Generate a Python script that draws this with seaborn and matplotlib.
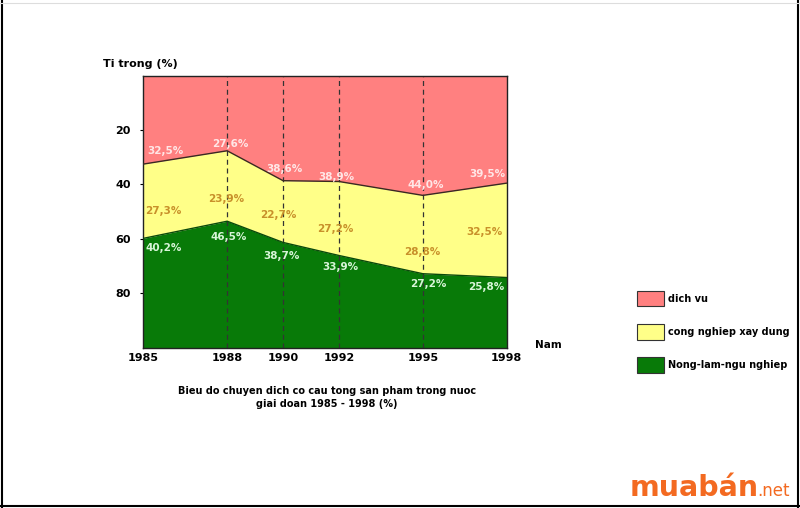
import matplotlib
matplotlib.use("Agg")
import matplotlib.pyplot as plt
import seaborn as sns
import numpy as np
import pandas as pd
from matplotlib.patches import Patch
from matplotlib.lines import Line2D

# ---------------- data ----------------
years = [1985, 1988, 1990, 1992, 1995, 1998]
dich_vu = [32.5, 27.6, 38.6, 38.9, 44.0, 39.5]
cong_nghiep = [27.3, 23.9, 22.7, 27.2, 28.8, 32.5]
nong_lam = [40.2, 46.5, 38.7, 33.9, 27.2, 25.8]
y_ticks = [20, 40, 60, 80]
series_names = ["dich vu", "cong nghiep xay dung", "Nong-lam-ngu nghiep"]

# label anchor positions (data coordinates)
dv_label_pos = [(1985.8, 27.6), (1988.1, 25.2), (1990.05, 34.3), (1991.9, 37.1), (1995.1, 40.2), (1997.3, 36.3)]
cn_label_pos = [(1985.72, 49.7), (1987.96, 45.4), (1989.83, 51.2), (1991.88, 56.5), (1994.97, 64.9), (1997.21, 57.6)]
nl_label_pos = [(1985.72, 63.5), (1988.07, 59.4), (1989.95, 66.3), (1992.05, 70.2), (1995.19, 76.7), (1997.27, 77.8)]

df = pd.DataFrame({"year": years, "dv": dich_vu, "cn": cong_nghiep, "nl": nong_lam})
df["green_top"] = 100 - df["nl"]

RED = "#FF8080"
YELLOW = "#FFFF88"
GREEN = "#087A08"

sns.set_style("white")
plt.rcParams["font.family"] = ["DejaVu Sans"]
plt.rcParams["text.color"] = "black"
plt.rcParams["xtick.color"] = "black"
plt.rcParams["ytick.color"] = "black"

fig = plt.figure(figsize=(8.0, 5.08), dpi=100)
ax = fig.add_axes([143.3 / 800, 1 - 347.7 / 508, (506.7 - 143.3) / 800, (347.7 - 75.7) / 508])

x = df["year"].to_numpy()
ax.fill_between(x, 0, df["dv"], color=RED, linewidth=0, zorder=1)
ax.fill_between(x, df["dv"], df["green_top"], color=YELLOW, linewidth=0, zorder=1)
ax.fill_between(x, df["green_top"], 100, color=GREEN, linewidth=0, zorder=1)

sns.lineplot(data=df, x="year", y="dv", ax=ax, color="#3a2a20", linewidth=1.0, zorder=3)
sns.lineplot(data=df, x="year", y="green_top", ax=ax, color="#0a4a0a", linewidth=1.0, zorder=3)

for yr in years[1:-1]:
    ax.axvline(yr, color="#333333", linestyle=(0, (4, 3)), linewidth=0.9, zorder=2)

ax.set_xlim(years[0], years[-1])
ax.set_ylim(100, 0)
ax.set_xticks(years)
ax.set_xticklabels([str(y) for y in years], fontsize=8, fontweight="bold")
ax.set_yticks(y_ticks)
ax.set_yticklabels([str(t) for t in y_ticks], fontsize=8, fontweight="bold")
ax.tick_params(axis="y", length=2, pad=7, left=True, colors="black")
ax.tick_params(axis="x", length=0, pad=4, colors="black")
ax.set_xlabel("")
ax.set_ylabel("")
for sp in ax.spines.values():
    sp.set_visible(True)
    sp.set_color("#222222")
    sp.set_linewidth(1.0)


def fmt(v):
    return f"{v:.1f}%".replace(".", ",")

for (px, py), v in zip(dv_label_pos, dich_vu):
    ax.text(px, py, fmt(v), color="#FFE6E6", fontsize=7.5, fontweight="bold", ha="center", va="center", zorder=4)
for (px, py), v in zip(cn_label_pos, cong_nghiep):
    ax.text(px, py, fmt(v), color="#C8902A", fontsize=7.5, fontweight="bold", ha="center", va="center", zorder=4)
for (px, py), v in zip(nl_label_pos, nong_lam):
    ax.text(px, py, fmt(v), color="#D8F5D8", fontsize=7.5, fontweight="bold", ha="center", va="center", zorder=4)

fig.text(103 / 800, 1 - 64 / 508, "Ti trong (%)", fontsize=8, fontweight="bold", ha="left", va="center")
fig.text(548 / 800, 1 - 345 / 508, "Nam", fontsize=7.5, fontweight="bold", ha="center", va="center")

fig.text(327 / 800, 1 - 391 / 508, "Bieu do chuyen dich co cau tong san pham trong nuoc",
         fontsize=7, fontweight="bold", ha="center", va="center")
fig.text(327 / 800, 1 - 404 / 508, "giai doan 1985 - 1998 (%)",
         fontsize=7, fontweight="bold", ha="center", va="center")

handles = [Patch(facecolor=RED, edgecolor="#333333", linewidth=0.8),
           Patch(facecolor=YELLOW, edgecolor="#333333", linewidth=0.8),
           Patch(facecolor=GREEN, edgecolor="#333333", linewidth=0.8)]
fig.legend(handles, series_names, loc="upper left", bbox_to_anchor=(628 / 800, 1 - 282 / 508),
           frameon=False, prop={"size": 7, "weight": "bold"}, handlelength=2.8, handleheight=2.1,
           labelspacing=1.8, handletextpad=0.45)

# watermark
fig.text(630 / 800, 1 - 488 / 508, "muabán", fontsize=20.5, fontweight="bold", color="#F36A21",
         ha="left", va="center")
fig.text(757 / 800, 1 - 491 / 508, ".net", fontsize=12, color="#F36A21", ha="left", va="center")

# image border
fig.add_artist(Line2D([1.5 / 800, 1.5 / 800], [0, 1], color="black", linewidth=1.5, transform=fig.transFigure))
fig.add_artist(Line2D([797.5 / 800, 797.5 / 800], [0, 1], color="black", linewidth=1.5, transform=fig.transFigure))
fig.add_artist(Line2D([0, 1], [1 - 505.5 / 508, 1 - 505.5 / 508], color="black", linewidth=1.5, transform=fig.transFigure))
fig.add_artist(Line2D([0, 1], [1 - 3 / 508, 1 - 3 / 508], color="#dddddd", linewidth=0.8, transform=fig.transFigure))

fig.savefig("out.png", dpi=100)
